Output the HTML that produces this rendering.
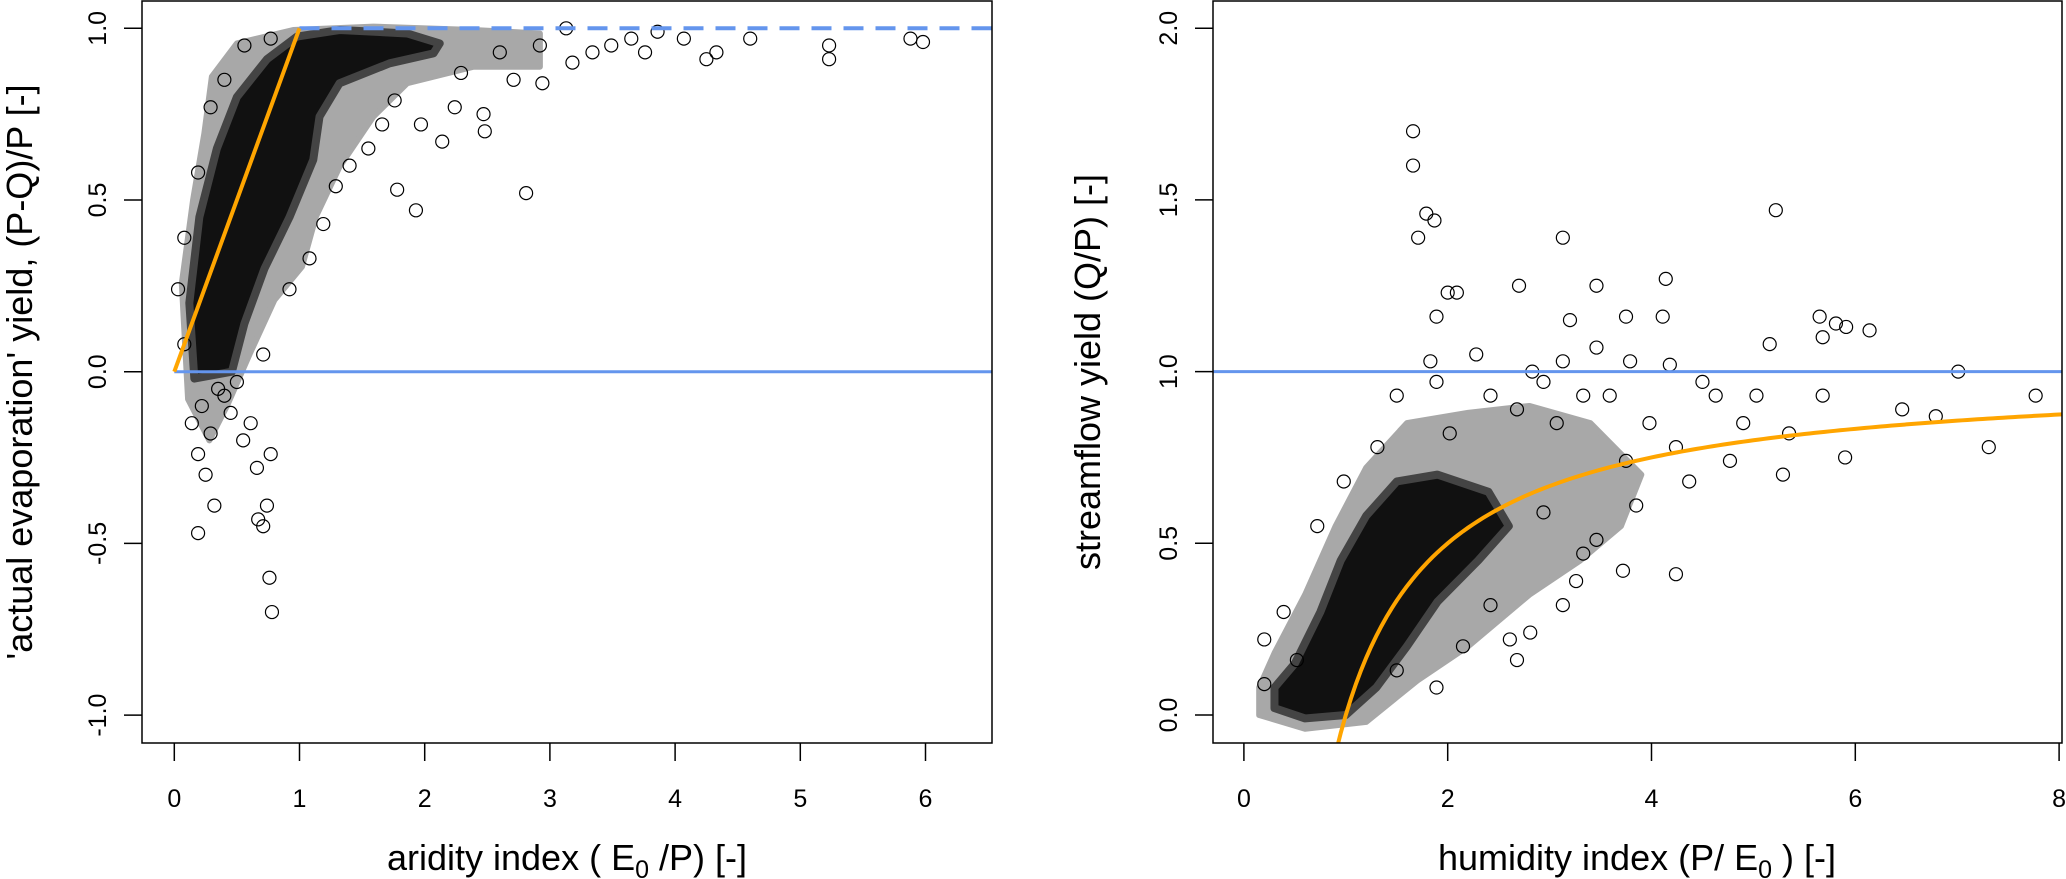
<!DOCTYPE html>
<html><head><meta charset="utf-8">
<style>
html,body{margin:0;padding:0;background:#fff;}
svg{display:block;font-family:"Liberation Sans",Arial,sans-serif;}
</style></head>
<body>
<svg id="chart" width="2066" height="879" viewBox="0 0 2066 879" xmlns="http://www.w3.org/2000/svg">
<g id="left"></g>
<g id="right"></g>
</svg>
<script>
// ---------- LEFT PANEL DATA ----------
const leftXTicks = [0,1,2,3,4,5,6];
const leftYTicks = [-1.0,-0.5,0.0,0.5,1.0];
const leftYTickLabels = ["-1.0","-0.5","0.0","0.5","1.0"];
const leftCoreX = [0.16,0.12,0.2,0.34,0.50,0.74,0.98,1.32,1.86,2.12,2.07,1.72,1.32,1.16,1.11,0.92,0.72,0.56,0.46];
const leftCoreY = [-0.02,0.2,0.45,0.65,0.80,0.91,0.976,0.995,0.985,0.956,0.927,0.898,0.84,0.743,0.617,0.45,0.3,0.14,0.0];
const leftHaloX = [0.11,0.06,0.15,0.24,0.30,0.50,0.95,1.59,2.39,2.92,2.92,2.39,1.86,1.59,1.32,1.13,1.02,0.80,0.60,0.42,0.28];
const leftHaloY = [-0.08,0.257,0.5,0.694,0.859,0.956,0.995,1.005,0.995,0.985,0.888,0.888,0.84,0.743,0.597,0.451,0.306,0.209,0.05,-0.1,-0.2];
const leftPtsX = [0.32,0.74,0.67,0.71,0.19,0.76,0.78,2.81,1.93,1.78,2.14,2.48,2.47,2.24,2.71,2.94,3.18,3.49,3.76,4.07,4.25,4.33,4.6,5.23,5.23,5.88,5.98,3.65,3.13,3.86,1.55,1.40,1.66,1.97,1.76,2.29,2.6,2.92,3.34,1.29,1.19,1.08,0.92,0.71,0.5,0.4,0.14,0.19,0.29,0.61,0.77,0.66,0.08,0.03,0.08,0.19,0.29,0.4,0.56,0.77,0.22,0.35,0.45,0.25,0.55];
const leftPtsY = [-0.39,-0.39,-0.43,-0.45,-0.47,-0.6,-0.7,0.52,0.47,0.53,0.67,0.70,0.75,0.77,0.85,0.84,0.90,0.95,0.93,0.97,0.91,0.93,0.97,0.95,0.91,0.97,0.96,0.97,1.0,0.99,0.65,0.6,0.72,0.72,0.79,0.87,0.93,0.95,0.93,0.54,0.43,0.33,0.24,0.05,-0.03,-0.07,-0.15,-0.24,-0.18,-0.15,-0.24,-0.28,0.08,0.24,0.39,0.58,0.77,0.85,0.95,0.97,-0.1,-0.05,-0.12,-0.3,-0.2];
const leftFitX = [0,1];
const leftFitY = [0,1];
// ---------- RIGHT PANEL DATA ----------
const rightXTicks = [0,2,4,6,8];
const rightYTicks = [0.0,0.5,1.0,1.5,2.0];
const rightYTickLabels = ["0.0","0.5","1.0","1.5","2.0"];
const rightCoreX = [0.3,0.6,1.0,1.3,1.6,1.9,2.3,2.6,2.4,1.9,1.5,1.2,0.95,0.75,0.5,0.3];
const rightCoreY = [0.02,-0.01,0.0,0.08,0.2,0.33,0.45,0.55,0.65,0.7,0.68,0.58,0.45,0.3,0.15,0.08];
const rightHaloX = [0.15,0.6,1.2,1.7,2.2,2.8,3.3,3.7,3.9,3.4,2.8,2.2,1.6,1.2,0.9,0.6,0.3,0.15];
const rightHaloY = [0.0,-0.04,-0.02,0.1,0.2,0.35,0.45,0.55,0.7,0.85,0.9,0.88,0.85,0.72,0.55,0.35,0.18,0.08];
const rightPtsX = [1.66,1.66,1.71,1.79,1.87,3.13,5.22,2.0,2.09,1.89,2.70,3.46,4.14,4.11,3.75,3.20,1.83,2.28,2.83,3.13,3.46,3.79,4.18,5.16,5.68,5.65,5.81,5.91,6.14,7.01,6.79,7.77,7.31,5.9,5.68,5.35,4.90,4.50,4.24,3.98,3.75,3.85,3.72,4.24,3.46,3.26,3.13,2.81,2.68,2.61,1.89,1.50,0.2,0.39,0.2,0.52,0.72,0.98,1.31,1.50,1.89,2.42,2.94,3.33,4.63,5.03,6.46,2.68,3.07,3.59,2.02,4.77,4.37,5.29,2.94,3.33,2.42,2.15];
const rightPtsY = [1.70,1.60,1.39,1.46,1.44,1.39,1.47,1.23,1.23,1.16,1.25,1.25,1.27,1.16,1.16,1.15,1.03,1.05,1.0,1.03,1.07,1.03,1.02,1.08,1.10,1.16,1.14,1.13,1.12,1.0,0.87,0.93,0.78,0.75,0.93,0.82,0.85,0.97,0.78,0.85,0.74,0.61,0.42,0.41,0.51,0.39,0.32,0.24,0.16,0.22,0.08,0.13,0.09,0.30,0.22,0.16,0.55,0.68,0.78,0.93,0.97,0.93,0.97,0.93,0.93,0.93,0.89,0.89,0.85,0.93,0.82,0.74,0.68,0.70,0.59,0.47,0.32,0.2];

const NS="http://www.w3.org/2000/svg";
function mk(parent,tag,attrs){const e=document.createElementNS(NS,tag);for(const k in attrs)e.setAttribute(k,attrs[k]);parent.appendChild(e);return e;}

function panel(g,cfg){
  const sx=v=>cfg.x0+v*cfg.xs, sy=v=>cfg.y0-v*cfg.ys;
  const clipId=cfg.id+"-clip";
  const defs=mk(g,"defs",{});
  const cp=mk(defs,"clipPath",{id:clipId});
  mk(cp,"rect",{x:cfg.L,y:cfg.T,width:cfg.R-cfg.L,height:cfg.B-cfg.T});
  const plot=mk(g,"g",{"clip-path":"url(#"+clipId+")"});
  
  
  const halo=mk(plot,"polygon",{points:cfg.haloX.map((x,i)=>sx(x)+","+sy(cfg.haloY[i])).join(" "),fill:"#a8a8a8",stroke:"#a8a8a8","stroke-width":6,"stroke-linejoin":"round"});
  
  
  const core=mk(plot,"polygon",{points:cfg.coreX.map((x,i)=>sx(x)+","+sy(cfg.coreY[i])).join(" "),fill:"#111",stroke:"#444","stroke-width":8,"stroke-linejoin":"round"});
  
  
  cfg.ptsX.forEach((x,i)=>{
    const c=mk(plot,"circle",{cx:sx(x),cy:sy(cfg.ptsY[i]),r:6.5,fill:"none",stroke:"#000","stroke-width":1.2});
    
    
  });
  cfg.lines(plot,sx,sy);
  const box=mk(g,"rect",{x:cfg.L,y:cfg.T,width:cfg.R-cfg.L,height:cfg.B-cfg.T,fill:"none",stroke:"#000","stroke-width":1.5});
  
  
  cfg.xTicks.forEach(v=>{
    const t=mk(g,"line",{x1:sx(v),x2:sx(v),y1:cfg.B,y2:cfg.B+18,stroke:"#000","stroke-width":1.5});
    
    
    const l=mk(g,"text",{x:sx(v),y:807,"text-anchor":"middle","font-size":25});
    l.textContent=String(v);
    
    
  });
  cfg.yTicks.forEach((v,i)=>{
    const t=mk(g,"line",{x1:cfg.L-18,x2:cfg.L,y1:sy(v),y2:sy(v),stroke:"#000","stroke-width":1.5});
    
    
    const lx=cfg.L-45;
    const l=mk(g,"text",{x:lx+9,y:sy(v),"text-anchor":"middle","font-size":25,transform:"rotate(-90 "+(lx+9)+" "+sy(v)+")"});
    l.textContent=cfg.yLabels[i];
    
    
  });
}

panel(document.getElementById("left"),{
  id:"left",L:142,R:992,T:1,B:743,x0:174.3,xs:125.2,y0:371.7,ys:343.4,
  xTicks:leftXTicks,yTicks:leftYTicks,yLabels:leftYTickLabels,
  coreX:leftCoreX,coreY:leftCoreY,haloX:leftHaloX,haloY:leftHaloY,ptsX:leftPtsX,ptsY:leftPtsY,
  lines:(p,sx,sy)=>{
    const z=mk(p,"line",{x1:sx(0),x2:992,y1:sy(0),y2:sy(0),stroke:"#6495ED","stroke-width":3});
    
    
    const d=mk(p,"line",{x1:sx(1),x2:992,y1:sy(1),y2:sy(1),stroke:"#6495ED","stroke-width":4,"stroke-dasharray":"20 12"});
    
    
    const o=mk(p,"polyline",{points:leftFitX.map((x,i)=>sx(x)+","+sy(leftFitY[i])).join(" "),fill:"none",stroke:"#FFA500","stroke-width":4});
    
    
  }
});

panel(document.getElementById("right"),{
  id:"right",L:1213,R:2062,T:1,B:743,x0:1243.9,xs:101.9,y0:715,ys:343.4,
  xTicks:rightXTicks,yTicks:rightYTicks,yLabels:rightYTickLabels,
  coreX:rightCoreX,coreY:rightCoreY,haloX:rightHaloX,haloY:rightHaloY,ptsX:rightPtsX,ptsY:rightPtsY,
  lines:(p,sx,sy)=>{
    const z=mk(p,"line",{x1:1213,x2:2062,y1:sy(1),y2:sy(1),stroke:"#6495ED","stroke-width":3});
    
    
    const pts=[];
    for(let x=0.9;x<=8.05;x+=0.05){pts.push(sx(x)+","+sy(1-1/x));}
    const o=mk(p,"polyline",{points:pts.join(" "),fill:"none",stroke:"#FFA500","stroke-width":4});
    
    
  }
});
</script>
<div style="position:absolute;left:0;top:0;width:2066px;height:879px;pointer-events:none;">
<svg width="2066" height="879" style="position:absolute;left:0;top:0;font-family:'Liberation Sans',Arial,sans-serif;">
<text x="567" y="870" text-anchor="middle" font-size="36">aridity index ( E<tspan font-size="25" dy="8">0</tspan><tspan dy="-8"> /P) [-]</tspan></text>
<text x="32" y="372" text-anchor="middle" font-size="36" transform="rotate(-90 32 372)">'actual evaporation' yield, (P-Q)/P [-]</text>
<text x="1637" y="870" text-anchor="middle" font-size="36">humidity index (P/ E<tspan font-size="25" dy="8">0</tspan><tspan dy="-8"> ) [-]</tspan></text>
<text x="1100" y="372" text-anchor="middle" font-size="36" transform="rotate(-90 1100 372)">streamflow yield (Q/P) [-]</text>
</svg>
</div>
</body></html>
